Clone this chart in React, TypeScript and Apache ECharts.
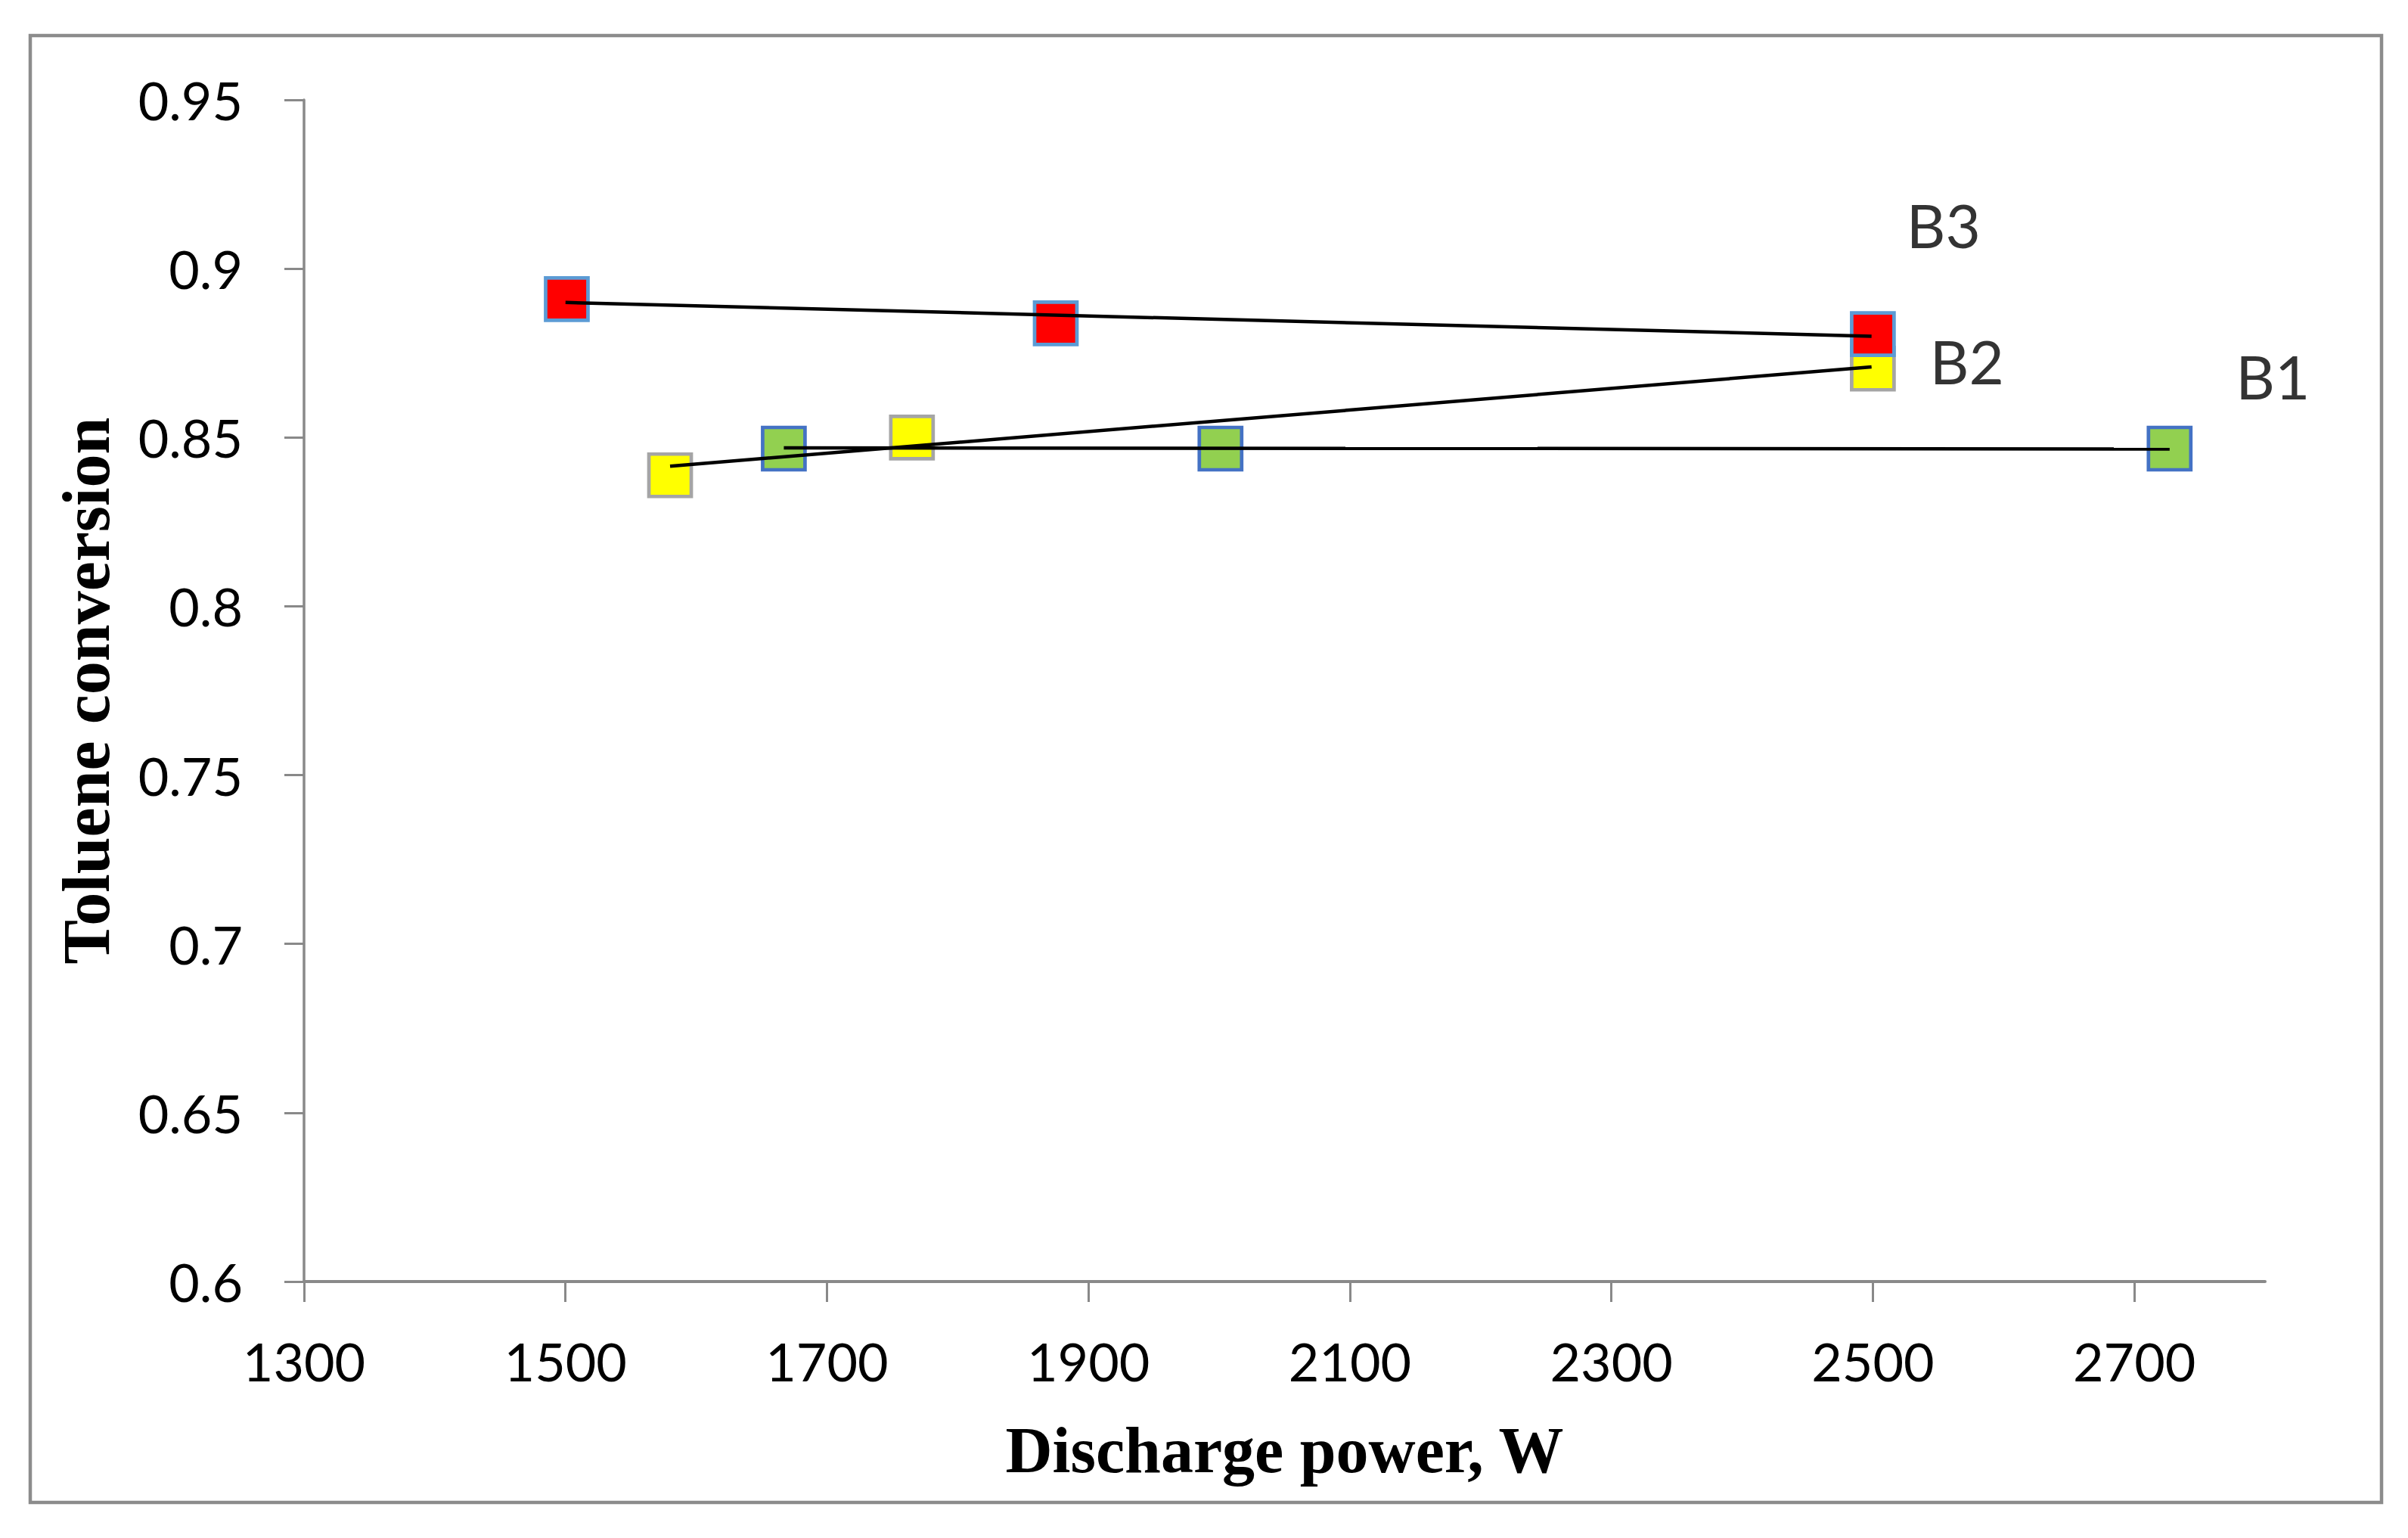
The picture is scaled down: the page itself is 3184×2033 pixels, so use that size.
import React, { useEffect, useRef } from "react";
import * as echarts from "echarts";

// ---- data ----
const xTicks = [1300, 1500, 1700, 1900, 2100, 2300, 2500, 2700];
const b1Points = [[1667, 0.8467], [2001, 0.8467], [2727, 0.8467]];
const b2Points = [[1580, 0.8388], [1765, 0.850], [2500, 0.8704]];
const b3Points = [[1501, 0.891], [1875, 0.8838], [2500, 0.8806]];
const b1Trend = [[1667, 0.8469], [2727, 0.8466]];
const b2Trend = [[1580, 0.8415], [2499, 0.8709]];
const b3Trend = [[1500, 0.890], [2499, 0.880]];
const seriesLabels = [
  { name: "B3", value: [2554, 0.9131] },
  { name: "B2", value: [2572, 0.8728] },
  { name: "B1", value: [2806, 0.8683] },
];

const AXIS_GRAY = "#898989";

export default function App() {
  const ref = useRef<HTMLDivElement>(null);
  useEffect(() => {
    if (!ref.current) return;
    const chart = echarts.init(ref.current, null, { renderer: "svg" });
    const marker = (fill: string, border: string) => ({
      color: fill,
      borderColor: border,
      borderWidth: 4.7,
      opacity: 1,
    });
    const trendStyle = { color: "#000", width: 4.5 };
    chart.setOption({
      animation: false,
      backgroundColor: "#fff",
      graphic: [
        {
          type: "rect",
          shape: { x: 40, y: 47, width: 3109, height: 1939 },
          style: { fill: "none", stroke: "#8c8c8c", lineWidth: 4.5 },
          z: 0,
        },
      ],
      grid: {
        left: 402,
        top: 132,
        right: 189,
        bottom: 339,
        outerBoundsMode: "none",
      },
      xAxis: {
        type: "value",
        min: 1300,
        max: 2800,
        name: "Discharge power, W",
        nameLocation: "middle",
        nameGap: 223,
        nameTextStyle: {
          fontFamily: "Liberation Serif",
          fontWeight: "bold",
          fontSize: 86,
          color: "#000",
          verticalAlign: "middle",
        },
        axisLine: { show: true, lineStyle: { color: AXIS_GRAY, width: 4 } },
        axisTick: {
          show: true,
          customValues: xTicks,
          length: 27,
          lineStyle: { color: AXIS_GRAY, width: 3 },
        },
        axisLabel: {
          customValues: xTicks,
          fontFamily: "Lato",
          fontSize: 70,
          color: "#000",
          margin: 70,
          formatter: (v: number) => String(v),
        },
        splitLine: { show: false },
      },
      yAxis: {
        type: "value",
        min: 0.6,
        max: 0.95,
        interval: 0.05,
        name: "Toluene conversion",
        nameLocation: "middle",
        nameGap: 288,
        nameTextStyle: {
          fontFamily: "Liberation Serif",
          fontWeight: "bold",
          fontSize: 88,
          color: "#000",
          verticalAlign: "middle",
        },
        axisLine: { show: true, lineStyle: { color: AXIS_GRAY, width: 3.5 } },
        axisTick: {
          show: true,
          length: 26,
          lineStyle: { color: AXIS_GRAY, width: 3 },
        },
        axisLabel: {
          fontFamily: "Lato",
          fontSize: 70,
          color: "#000",
          margin: 81,
          formatter: (v: number) => String(parseFloat(v.toFixed(2))),
        },
        splitLine: { show: false },
      },
      series: [
        {
          name: "B1",
          type: "scatter",
          symbol: "rect",
          symbolSize: 56,
          data: b1Points,
          itemStyle: marker("#92D050", "#4472C4"),
          z: 2,
        },
        {
          name: "B2",
          type: "scatter",
          symbol: "rect",
          symbolSize: 56,
          data: b2Points,
          itemStyle: marker("#FFFF00", "#A5A5A5"),
          z: 2,
        },
        {
          name: "B3",
          type: "scatter",
          symbol: "rect",
          symbolSize: 56,
          data: b3Points,
          itemStyle: marker("#FF0000", "#5B9BD5"),
          z: 2,
        },
        {
          name: "B1 trend",
          type: "line",
          data: b1Trend,
          symbol: "none",
          lineStyle: trendStyle,
          z: 3,
        },
        {
          name: "B2 trend",
          type: "line",
          data: b2Trend,
          symbol: "none",
          lineStyle: trendStyle,
          z: 3,
        },
        {
          name: "B3 trend",
          type: "line",
          data: b3Trend,
          symbol: "none",
          lineStyle: trendStyle,
          z: 3,
        },
        {
          name: "labels",
          type: "scatter",
          data: seriesLabels,
          symbolSize: 1,
          itemStyle: { color: "rgba(0,0,0,0)" },
          clip: false,
          silent: true,
          label: {
            show: true,
            position: "inside",
            formatter: (p: any) => p.name,
            fontFamily: "Lato",
            fontSize: 80,
            color: "#000",
          },
          z: 4,
        },
      ],
    });
    return () => chart.dispose();
  }, []);
  return (
    <div
      ref={ref}
      style={{ position: "fixed", left: 0, top: 0, width: 3184, height: 2033 }}
    />
  );
}
